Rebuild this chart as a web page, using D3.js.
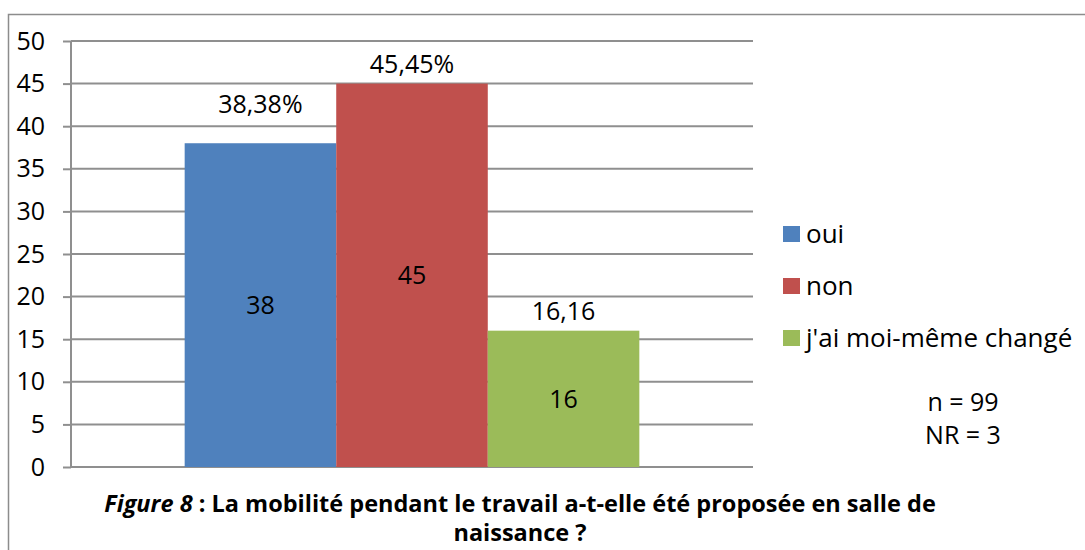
<!DOCTYPE html>
<html><head><meta charset="utf-8">
<script src="https://cdn.jsdelivr.net/npm/d3@7"></script>
<style>
body{margin:0;background:#fff;}
text{font-family:"Open Sans",Lato,sans-serif;}
</style></head>
<body>
<svg id="c" width="1085" height="550"></svg>
<script>
const series = ["oui", "non", "j'ai moi-même changé"];
const values = [38, 45, 16];
const percentLabels = ["38,38%", "45,45%", "16,16"];
const colors = ["#4f81bd", "#c0504d", "#9bbb59"];
const yTicks = [0, 5, 10, 15, 20, 25, 30, 35, 40, 45, 50];
const notes = ["n = 99", "NR = 3"];

const FS = 25;
const svg = d3.select("#c");
// outer border
svg.append("path").attr("d","M8.5,550 V14.5 H1085").attr("fill","none").attr("stroke","#8c8c8c").attr("stroke-width",1.5);

const x0 = 71, x1 = 753;
const y = d3.scaleLinear().domain([0,50]).range([467,41]);
const xg = d3.scaleBand().domain(["g"]).range([x0,x1]).paddingInner(0).paddingOuter(0.25);
const xs = d3.scaleBand().domain(series).range([0, xg.bandwidth()]);

// gridlines
svg.append("g").selectAll("line").data(yTicks).join("line")
  .attr("x1",x0).attr("x2",x1).attr("y1",d=>y(d)).attr("y2",d=>y(d))
  .attr("stroke","#8f8f8f").attr("stroke-width",2);

// bars
const g = svg.append("g");
g.selectAll("rect").data(values).join("rect")
  .attr("x",(d,i)=>xg("g")+xs(series[i]))
  .attr("width",xs.bandwidth())
  .attr("y",d=>y(d)).attr("height",d=>y(0)-y(d))
  .attr("fill",(d,i)=>colors[i]);

// axis
const ax = svg.append("g").attr("transform",`translate(${x0},0)`)
  .call(d3.axisLeft(y).tickValues(yTicks).tickSize(8).tickPadding(18));
ax.select(".domain").attr("stroke","#8f8f8f").attr("stroke-width",2).attr("d",`M0,${y(50)}V${y(0)}`);
ax.selectAll(".tick line").attr("stroke","#8f8f8f").attr("stroke-width",2);
ax.selectAll(".tick text").attr("font-family","Open Sans").attr("font-size",FS).attr("fill","#000");

// value labels inside bars
g.selectAll("text.in").data(values).join("text").attr("class","in")
  .attr("x",(d,i)=>xg("g")+xs(series[i])+xs.bandwidth()/2)
  .attr("y",d=>(y(d)+y(0))/2).attr("dy","0.35em")
  .attr("text-anchor","middle").attr("font-size",FS).text(d=>d);

// percentage labels above bars
const extraLift = [20, 0, 0];
g.selectAll("text.pc").data(percentLabels).join("text").attr("class","pc")
  .attr("x",(d,i)=>xg("g")+xs(series[i])+xs.bandwidth()/2)
  .attr("y",(d,i)=>y(values[i]) - 19 - extraLift[i]).attr("dy","0.35em")
  .attr("text-anchor","middle").attr("font-size",FS).text(d=>d);

// legend
const lg = svg.append("g").attr("transform","translate(783,234)");
const li = lg.selectAll("g").data(series).join("g").attr("transform",(d,i)=>`translate(0,${i*52})`);
li.append("rect").attr("x",0).attr("y",-8).attr("width",17).attr("height",16).attr("fill",(d,i)=>colors[i]);
li.append("text").attr("x",23).attr("y",0).attr("dy","0.35em").attr("font-size",26).text(d=>d);

// notes
svg.append("g").selectAll("text").data(notes).join("text")
  .attr("x",963).attr("y",(d,i)=>402+i*33).attr("dy","0.35em")
  .attr("text-anchor","middle").attr("font-size",FS).text(d=>d);

// title
const t = svg.append("text").attr("x",520).attr("y",504).attr("dy","0.35em")
  .attr("text-anchor","middle").attr("font-size",23.5).attr("font-weight","bold");
t.append("tspan").attr("font-style","italic").text("Figure 8");
t.append("tspan").text(" : La mobilité pendant le travail a-t-elle été proposée en salle de");
svg.append("text").attr("x",520).attr("y",533).attr("dy","0.35em")
  .attr("text-anchor","middle").attr("font-size",23.5).attr("font-weight","bold").text("naissance ?");
</script>
</body></html>
